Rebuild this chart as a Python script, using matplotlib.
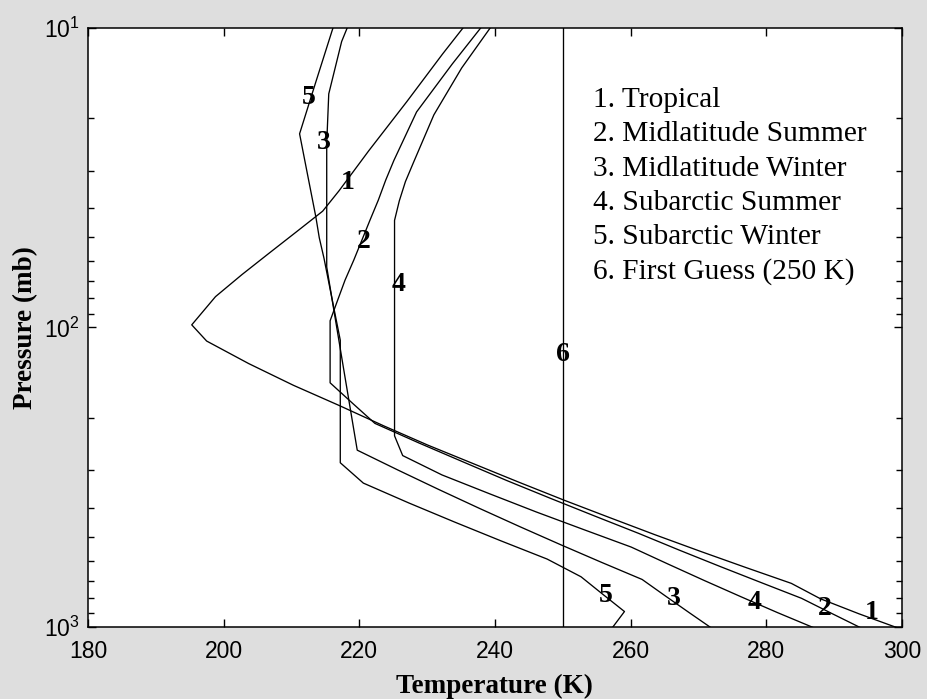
import matplotlib
matplotlib.use("Agg")
import matplotlib.pyplot as plt
from matplotlib.ticker import LogLocator, FixedLocator

plt.rcParams['font.family'] = ['Liberation Sans', 'DejaVu Sans']
plt.rcParams['mathtext.default'] = 'regular'

# standard atmosphere profiles: pressure (mb) and temperature (K)
tropical_p = [1013, 904, 805, 715, 633, 559, 492, 432, 378, 329, 286, 247, 213, 182,
              156, 132, 111, 98.0, 78.9, 66.6, 56.5, 48.0, 40.9, 35.0, 30.0, 25.7,
              17.63, 12.2, 8.52]
tropical_t = [299.7, 293.7, 288.0, 283.7, 277.0, 270.3, 263.6, 257.0, 250.3, 243.6,
              237.0, 230.1, 223.6, 217.0, 210.3, 203.7, 197.5, 195.3, 198.8, 202.7,
              206.7, 210.7, 214.6, 217.0, 219.2, 221.4, 227.0, 232.3, 237.7]

mls_p = [1013, 902, 802, 710, 628, 554, 487, 426, 372, 324, 281, 243, 209, 179,
         153, 130, 111, 95.0, 81.2, 69.5, 59.5, 51.0, 43.7, 37.6, 32.2, 27.7,
         19.07, 13.2, 9.3]
mls_t = [294.2, 289.7, 285.2, 279.2, 273.2, 267.2, 261.2, 254.7, 248.2, 241.7,
         235.3, 228.8, 222.3, 219.0, 215.7, 215.7, 215.7, 215.7, 216.8, 217.9,
         219.2, 220.4, 221.6, 222.8, 223.9, 225.1, 228.45, 233.7, 239.0]

mlw_p = [1018, 897.3, 789.7, 693.8, 608.1, 531.3, 462.7, 401.6, 347.3, 299.2,
         256.8, 219.9, 188.2, 161.0, 137.8, 117.8, 100.7, 86.1, 73.5, 62.8, 53.7,
         45.8, 39.1, 33.4, 28.6, 24.3, 16.6, 11.1, 7.56]
mlw_t = [272.2, 268.7, 265.2, 261.7, 255.7, 249.7, 243.7, 237.7, 231.7, 225.7,
         219.7, 219.2, 218.7, 218.2, 217.7, 217.2, 216.7, 216.2, 215.7, 215.2,
         215.2, 215.2, 215.2, 215.2, 215.2, 215.2, 215.5, 217.4, 220.4]

sas_p = [1010, 896, 792.9, 700, 616, 541, 473, 413, 359, 310.7, 267.7, 230, 197.7,
         170, 146, 125.8, 108.2, 93.1, 80.1, 68.9, 59.3, 51.0, 43.9, 37.8, 32.6,
         28.1, 19.5, 13.6, 9.5]
sas_t = [287.2, 281.7, 276.3, 270.9, 265.5, 260.1, 253.1, 246.1, 239.2, 232.2,
         226.4, 225.2, 225.2, 225.2, 225.2, 225.2, 225.2, 225.2, 225.2, 225.2,
         225.2, 225.2, 225.2, 225.9, 226.8, 228.0, 231.0, 235.1, 240.0]

saw_p = [1013, 887.8, 777.5, 679.8, 593.2, 515.8, 446.7, 385.3, 330.8, 282.9,
         241.8, 206.7, 176.6, 151.0, 129.1, 110.3, 94.31, 80.58, 68.82, 58.75,
         50.14, 42.77, 36.47, 31.09, 26.49, 22.56, 15.13, 10.2, 6.91]
saw_t = [257.2, 259.1, 255.9, 252.7, 247.7, 240.9, 234.1, 227.3, 220.6, 217.2,
         217.2, 217.2, 217.2, 217.2, 217.2, 217.2, 216.6, 216.0, 215.4, 214.8,
         214.1, 213.6, 213.0, 212.4, 211.8, 211.2, 213.6, 216.0, 218.5]

guess_p = [1000, 10]
guess_t = [250, 250]

legend_lines = ["1. Tropical", "2. Midlatitude Summer", "3. Midlatitude Winter",
                "4. Subarctic Summer", "5. Subarctic Winter", "6. First Guess (250 K)"]

# curve number labels: (text, temperature, pressure)
curve_labels = [("5", 212.6, 17.1), ("3", 214.7, 24.2), ("1", 218.3, 32.8),
                ("2", 220.7, 51.5), ("4", 225.8, 71.9), ("6", 250.0, 123),
                ("5", 256.4, 785), ("3", 266.4, 805), ("4", 278.3, 829),
                ("2", 288.6, 870), ("1", 295.5, 895)]

fig = plt.figure(figsize=(9.27, 6.99), dpi=100, facecolor='#dedede')
ax = fig.add_axes([0.0949, 0.103, 0.878, 0.857])
ax.set_facecolor('white')

for t, p in [(tropical_t, tropical_p), (mls_t, mls_p), (mlw_t, mlw_p),
             (sas_t, sas_p), (saw_t, saw_p), (guess_t, guess_p)]:
    ax.plot(t, p, color='black', lw=0.95)

ax.set_yscale('log')
ax.set_xlim(180, 300)
ax.set_ylim(1000, 10)
ax.xaxis.set_major_locator(FixedLocator([180, 200, 220, 240, 260, 280, 300]))
ax.yaxis.set_minor_locator(LogLocator(base=10, subs=range(2, 10)))

ax.tick_params(which='both', direction='in', top=True, right=True, width=1.0)
ax.tick_params(which='major', length=6, labelsize=16.5)
ax.tick_params(which='minor', length=4)
ax.tick_params(axis='x', pad=9)
ax.tick_params(axis='y', pad=6)
for s in ax.spines.values():
    s.set_linewidth(1.1)

serif = ['Liberation Serif', 'DejaVu Serif']
ax.set_xlabel('Temperature (K)', family=serif, fontweight='bold', fontsize=19.5)
ax.set_ylabel('Pressure (mb)', family=serif, fontweight='bold', fontsize=19.5)
ax.xaxis.set_label_coords(0.5, -0.078)
ax.yaxis.set_label_coords(-0.061, 0.5)

for txt, t, p in curve_labels:
    ax.text(t, p, txt, family=serif, fontweight='bold', fontsize=20,
            ha='center', va='center')

ax.text(0.620, 0.901, "\n".join(legend_lines), transform=ax.transAxes,
        family=serif, fontsize=21.2, ha='left', va='top', linespacing=1.41)

fig.savefig('out.png', dpi=100, facecolor=fig.get_facecolor())
